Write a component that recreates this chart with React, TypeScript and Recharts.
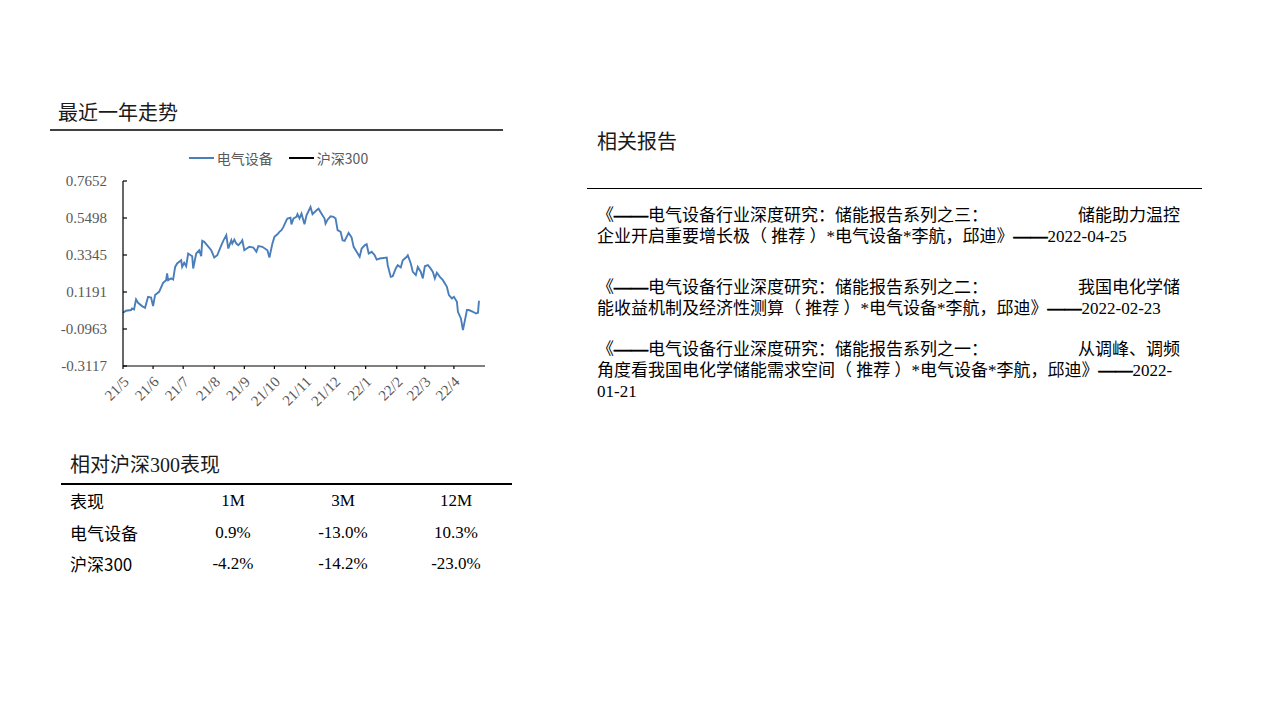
import React from "react";
import { LineChart, Line, XAxis, YAxis, Legend } from "recharts";

// trading-day offsets (approx. days since 2021-04-26) and relative return of 电气设备
const dayIndex = [
  0, 3, 8, 9, 11, 13, 15, 19, 22, 25, 28, 30, 32, 36, 40, 43, 44, 45, 48, 50,
  52, 54, 58, 59, 61, 63, 65, 69, 70, 73, 76, 78, 79, 81, 84, 88, 91, 94, 98, 100,
  103, 105, 108, 109, 111, 113, 115, 118, 119, 121, 126, 130, 133, 135, 139, 144, 146, 149, 151, 154,
  156, 158, 160, 163, 164, 167, 168, 170, 173, 174, 176, 178, 181, 183, 187, 189, 193, 195, 198, 201,
  202, 204, 207, 210, 212, 214, 217, 219, 221, 223, 225, 228, 230, 233, 236, 238, 241, 243, 245, 248,
  251, 253, 256, 263, 264, 267, 269, 272, 274, 277, 279, 283, 284, 287, 289, 292, 294, 297, 299, 301,
  304, 306, 309, 311, 313, 316, 319, 323, 325, 328, 330, 333, 334, 337, 339, 341, 343, 345, 349, 352,
  354, 355,
];

const elecValues = [
  -0.002, 0.01, 0.014, 0.023, 0.018, 0.076, 0.056, 0.037, 0.027, 0.091, 0.087, 0.037, 0.101, 0.12, 0.172, 0.188, 0.227, 0.188, 0.198, 0.192,
  0.265, 0.285, 0.304, 0.265, 0.289, 0.269, 0.343, 0.327, 0.256, 0.343, 0.362, 0.327, 0.417, 0.411, 0.391, 0.362, 0.32, 0.333, 0.391, 0.417,
  0.45, 0.372, 0.42, 0.401, 0.424, 0.401, 0.391, 0.411, 0.42, 0.362, 0.382, 0.378, 0.353, 0.386, 0.382, 0.362, 0.32, 0.401, 0.44, 0.455,
  0.469, 0.479, 0.498, 0.537, 0.547, 0.552, 0.513, 0.547, 0.556, 0.572, 0.547, 0.575, 0.513, 0.566, 0.614, 0.572, 0.595, 0.604, 0.575, 0.547,
  0.517, 0.54, 0.56, 0.556, 0.547, 0.479, 0.469, 0.42, 0.417, 0.44, 0.463, 0.436, 0.382, 0.353, 0.324, 0.372, 0.391, 0.397, 0.343, 0.353,
  0.333, 0.308, 0.314, 0.32, 0.275, 0.207, 0.211, 0.256, 0.275, 0.262, 0.304, 0.324, 0.333, 0.285, 0.236, 0.217, 0.265, 0.236, 0.198, 0.269,
  0.275, 0.262, 0.236, 0.198, 0.231, 0.207, 0.188, 0.149, 0.101, 0.082, 0.091, 0.062, 0.004, -0.035, -0.103, -0.045, 0.014, 0.014, 0.004, -0.006,
  -0.002, 0.068,
];

const monthTicks = [0, 30, 60, 91, 121, 151, 182, 211, 242, 273, 301, 330];
const monthLabels = ["21/5", "21/6", "21/7", "21/8", "21/9", "21/10", "21/11", "21/12", "22/1", "22/2", "22/3", "22/4"];
const yTicks = [0.7652, 0.5498, 0.3345, 0.1191, -0.0963, -0.3117];
const seriesOrder = ["电气设备", "沪深300"];

const perfHeaders = ["表现", "1M", "3M", "12M"];
const perfRows = [
  ["电气设备", "0.9%", "-13.0%", "10.3%"],
  ["沪深300", "-4.2%", "-14.2%", "-23.0%"],
];

const reports = [
  {
    head: "《——电气设备行业深度研究：储能报告系列之三：",
    tail: "储能助力温控",
    rest: ["企业开启重要增长极（ 推荐 ）*电气设备*李航，邱迪》——2022-04-25"],
  },
  {
    head: "《——电气设备行业深度研究：储能报告系列之二：",
    tail: "我国电化学储",
    rest: ["能收益机制及经济性测算（ 推荐 ）*电气设备*李航，邱迪》——2022-02-23"],
  },
  {
    head: "《——电气设备行业深度研究：储能报告系列之一：",
    tail: "从调峰、调频",
    rest: ["角度看我国电化学储能需求空间（ 推荐 ）*电气设备*李航，邱迪》——2022-", "01-21"],
  },
];
const reportTops = [205, 277, 339];

const chartData = dayIndex.map((d, i) => ({ day: d, elec: elecValues[i], hs300: null }));

const SANS = '"Noto Sans CJK SC", "Noto Sans", sans-serif';
const MIXED = '"Liberation Serif", "Noto Sans CJK SC", serif';

// render the em-dash pairs heavier, as in the source document
const withDashes = (s: string) =>
  s.split("——").map((part, i) => (
    <React.Fragment key={i}>
      {i > 0 && <span style={{ fontWeight: 700, WebkitTextStroke: "0.7px #000" }}>——</span>}
      {part}
    </React.Fragment>
  ));

const XTick = (props: any) => {
  const { x, y, payload } = props;
  const idx = monthTicks.indexOf(payload.value);
  const tx = x + 3;
  const ty = y + 8;
  return (
    <text
      x={tx}
      y={ty}
      dy="0.35em"
      transform={`rotate(-45, ${tx}, ${ty})`}
      textAnchor="end"
      fontSize={15}
      fontFamily='"Liberation Serif", serif'
      fill="#595959"
    >
      {monthLabels[idx]}
    </text>
  );
};

const LegendContent = (props: any) => {
  const items = [...(props.payload || [])].sort(
    (a: any, b: any) => seriesOrder.indexOf(a.value) - seriesOrder.indexOf(b.value)
  );
  return (
    <div style={{ display: "flex", justifyContent: "center", alignItems: "center", paddingLeft: 7, fontFamily: SANS, fontSize: 14, color: "#595959" }}>
      {items.map((p: any, i: number) => (
        <div key={i} style={{ display: "flex", alignItems: "center", marginRight: i === 0 ? 16 : 0 }}>
          <svg width={25} height={4} style={{ marginRight: 3 }}>
            <line x1={0} y1={2} x2={25} y2={2} stroke={p.color} strokeWidth={2} />
          </svg>
          <span>{p.value}</span>
        </div>
      ))}
    </div>
  );
};

export default function App() {
  return (
    <div style={{ position: "absolute", left: 0, top: 0, width: 1279, height: 719, background: "#fff", fontFamily: SANS }}>
      {/* 最近一年走势 */}
      <div style={{ position: "absolute", left: 58, top: 100, fontSize: 20, lineHeight: "24px", color: "#1a1a1a" }}>最近一年走势</div>
      <div style={{ position: "absolute", left: 50, top: 129, width: 453, height: 2, background: "#404040" }} />

      <div style={{ position: "absolute", left: 50, top: 140 }}>
        <LineChart width={450} height={290} data={chartData} margin={{ top: 41, right: 15, bottom: 24, left: 0 }}>
          <XAxis
            dataKey="day"
            type="number"
            domain={[0, 361]}
            ticks={monthTicks}
            interval={0}
            tick={<XTick />}
            tickSize={3}
            tickMargin={2}
            height={40}
            axisLine={{ stroke: "#000", strokeWidth: 1.2 }}
            tickLine={{ stroke: "#000", strokeWidth: 1.2 }}
          />
          <YAxis
            type="number"
            domain={[-0.3117, 0.7652]}
            ticks={yTicks}
            interval={0}
            width={73}
            tickSize={-4}
            tickMargin={20}
            tickFormatter={(v: number) => v.toFixed(4)}
            tick={{ fontSize: 15, fontFamily: '"Liberation Serif", serif', fill: "#595959" }}
            axisLine={{ stroke: "#000", strokeWidth: 1.2 }}
            tickLine={{ stroke: "#000", strokeWidth: 1.2 }}
          />
          <Legend
            layout="horizontal"
            verticalAlign="middle"
            align="center"
            wrapperStyle={{ top: 8, left: 0, width: 450 }}
            content={<LegendContent />}
          />
          <Line type="linear" dataKey="elec" name="电气设备" stroke="#4A7EBB" strokeWidth={1.9} dot={false} isAnimationActive={false} />
          <Line type="linear" dataKey="hs300" name="沪深300" stroke="#000000" strokeWidth={1.9} dot={false} isAnimationActive={false} />
        </LineChart>
      </div>

      {/* 相对沪深300表现 */}
      <div style={{ position: "absolute", left: 70, top: 453, fontSize: 20, lineHeight: "24px", color: "#1a1a1a", fontFamily: MIXED }}>相对沪深300表现</div>
      <div style={{ position: "absolute", left: 61, top: 483, width: 451, height: 1.5, background: "#000" }} />
      {[perfHeaders, ...perfRows].map((row, r) => (
        <div key={r}>
          <div style={{ position: "absolute", left: 70, top: 489 + r * 31.6, fontSize: 17, lineHeight: "24px", color: "#000", fontFamily: SANS }}>{row[0]}</div>
          {row.slice(1).map((cell, c) => (
            <div
              key={c}
              style={{ position: "absolute", left: [233, 343, 456][c] - 60, width: 120, textAlign: "center", top: 489 + r * 31.6, fontSize: 17, lineHeight: "24px", color: "#000", fontFamily: MIXED }}
            >
              {cell}
            </div>
          ))}
        </div>
      ))}

      {/* 相关报告 */}
      <div style={{ position: "absolute", left: 597, top: 129, fontSize: 20, lineHeight: "24px", color: "#1a1a1a" }}>相关报告</div>
      <div style={{ position: "absolute", left: 587, top: 188, width: 615, height: 1.2, background: "#000" }} />
      {reports.map((rep, i) => (
        <div key={i} style={{ position: "absolute", left: 597, top: reportTops[i], width: 583, fontSize: 17, lineHeight: "21px", color: "#000", fontFamily: MIXED }}>
          <div style={{ display: "flex", justifyContent: "space-between", whiteSpace: "nowrap" }}>
            <span>{withDashes(rep.head)}</span>
            <span>{rep.tail}</span>
          </div>
          {rep.rest.map((t, j) => (
            <div key={j} style={{ whiteSpace: "nowrap" }}>{withDashes(t)}</div>
          ))}
        </div>
      ))}
    </div>
  );
}
